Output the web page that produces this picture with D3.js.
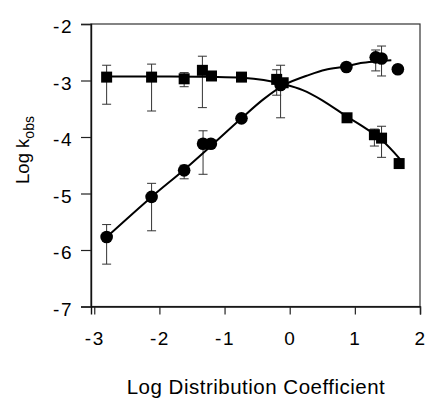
<!DOCTYPE html>
<html>
<head>
<meta charset="utf-8">
<script src="https://cdn.jsdelivr.net/npm/d3@7"></script>
<style>
  body { margin: 0; background: #fff; }
  svg { display: block; font-family: "Liberation Sans", Arial, sans-serif; }
</style>
</head>
<body>
<svg width="427" height="399"></svg>
<script>
// squares (series A)
var sqX = [-2.81, -2.12, -1.62, -1.34, -1.20, -0.74, -0.20, -0.10, 0.88, 1.30, 1.41, 1.68];
var sqY = [-2.94, -2.94, -2.97, -2.82, -2.92, -2.94, -2.98, -3.04, -3.66, -3.96, -4.02, -4.47];
var sqHi = [-2.73, -2.71, -2.86, -2.57, null, -2.91, -2.81, null, null, -3.86, -3.81, -4.40];
var sqLo = [-3.42, -3.54, -3.11, -3.48, null, -2.98, -3.26, null, null, -4.16, -4.36, -4.52];

// circles (series B)
var cX = [-2.81, -2.12, -1.62, -1.33, -1.21, -0.74, -0.14, 0.87, 1.32, 1.41, 1.66];
var cY = [-5.77, -5.06, -4.59, -4.12, -4.12, -3.67, -3.08, -2.76, -2.59, -2.61, -2.80];
var cHi = [-5.55, -4.82, -4.50, -3.89, null, -3.62, -2.73, null, -2.46, -2.39, null];
var cLo = [-6.25, -5.66, -4.74, -4.66, null, -3.72, -3.66, null, -2.83, -2.92, null];

// fitted curves
var sqFitX = [-2.81, -2.0, -1.2, -0.73, -0.4, -0.07, 0.2, 0.5, 0.88, 1.09, 1.4, 1.70];
var sqFitY = [-2.93, -2.93, -2.935, -2.95, -2.99, -3.07, -3.17, -3.35, -3.64, -3.79, -4.04, -4.40];
var cFitX = [-2.81, -2.12, -1.62, -1.2, -0.74, -0.4, -0.07, 0.3, 0.55, 0.87, 1.09, 1.35, 1.56];
var cFitY = [-5.77, -5.06, -4.58, -4.15, -3.67, -3.33, -3.07, -2.90, -2.81, -2.75, -2.69, -2.66, -2.64];

var xTicks = [-3, -2, -1, 0, 1, 2];
var yTicks = [-7, -6, -5, -4, -3, -2];

var svg = d3.select("svg");
var pLeft = 91, pRight = 420, pTop = 24, pBottom = 306.5;

var x = d3.scaleLinear().domain([-3.05, 2]).range([pLeft, pRight]);
var y = d3.scaleLinear().domain([-7, -2]).range([pBottom, pTop]);

// frame
svg.append("rect")
  .attr("x", pLeft).attr("y", pTop)
  .attr("width", pRight - pLeft).attr("height", pBottom - pTop)
  .attr("fill", "none").attr("stroke", "#333").attr("stroke-width", 1.2);

var fmt = function (d) { return String(d); };
var xAxis = svg.append("g").attr("transform", "translate(0," + pBottom + ")")
  .call(d3.axisBottom(x).tickValues(xTicks).tickSize(8).tickPadding(17).tickFormat(fmt));
var yAxis = svg.append("g").attr("transform", "translate(" + pLeft + ",0)")
  .call(d3.axisLeft(y).tickValues(yTicks).tickSize(10).tickPadding(8).tickFormat(fmt));

[xAxis, yAxis].forEach(function (ax) {
  ax.select(".domain").attr("stroke", "#111").attr("stroke-width", 1.4);
  ax.selectAll(".tick line").attr("stroke", "#222").attr("stroke-width", 1.2);
  ax.selectAll(".tick text")
    .attr("fill", "#000")
    .style("font-family", "'Liberation Sans', Arial, sans-serif")
    .style("font-size", "19px")
    .style("letter-spacing", "1.5px");
});
yAxis.selectAll(".tick text").attr("dy", "0.45em");

// axis titles
svg.append("text")
  .attr("x", 256).attr("y", 394)
  .attr("text-anchor", "middle")
  .style("font-size", "20.5px")
  .style("letter-spacing", "0.5px")
  .text("Log Distribution Coefficient");

var yl = svg.append("text")
  .attr("transform", "translate(29,150) rotate(-90)")
  .attr("text-anchor", "middle")
  .style("font-size", "18.5px");
yl.append("tspan").text("Log k");
yl.append("tspan").attr("dy", 5).style("font-size", "14px").text("obs");

// error bars
function errorBars(xs, hi, lo) {
  var g = svg.append("g").attr("stroke", "#333").attr("stroke-width", 1);
  xs.forEach(function (v, i) {
    if (hi[i] === null) return;
    var px = x(v);
    g.append("line").attr("x1", px).attr("x2", px).attr("y1", y(hi[i])).attr("y2", y(lo[i]));
    g.append("line").attr("x1", px - 4.5).attr("x2", px + 4.5).attr("y1", y(hi[i])).attr("y2", y(hi[i]));
    g.append("line").attr("x1", px - 4.5).attr("x2", px + 4.5).attr("y1", y(lo[i])).attr("y2", y(lo[i]));
  });
}
errorBars(sqX, sqHi, sqLo);
errorBars(cX, cHi, cLo);

// fitted lines
var line = d3.line()
  .x(function (d) { return x(d[0]); })
  .y(function (d) { return y(d[1]); })
  .curve(d3.curveCatmullRom);

svg.append("path")
  .datum(d3.zip(sqFitX, sqFitY))
  .attr("d", line).attr("fill", "none").attr("stroke", "#000").attr("stroke-width", 2);
svg.append("path")
  .datum(d3.zip(cFitX, cFitY))
  .attr("d", line).attr("fill", "none").attr("stroke", "#000").attr("stroke-width", 2);

// markers
svg.append("g").selectAll("path")
  .data(d3.zip(sqX, sqY))
  .enter().append("path")
  .attr("transform", function (d) { return "translate(" + x(d[0]) + "," + y(d[1]) + ")"; })
  .attr("d", d3.symbol().type(d3.symbolSquare).size(121))
  .attr("fill", "#000");

svg.append("g").selectAll("circle")
  .data(d3.zip(cX, cY))
  .enter().append("circle")
  .attr("cx", function (d) { return x(d[0]); })
  .attr("cy", function (d) { return y(d[1]); })
  .attr("r", 6.3)
  .attr("fill", "#000");
</script>
</body>
</html>
